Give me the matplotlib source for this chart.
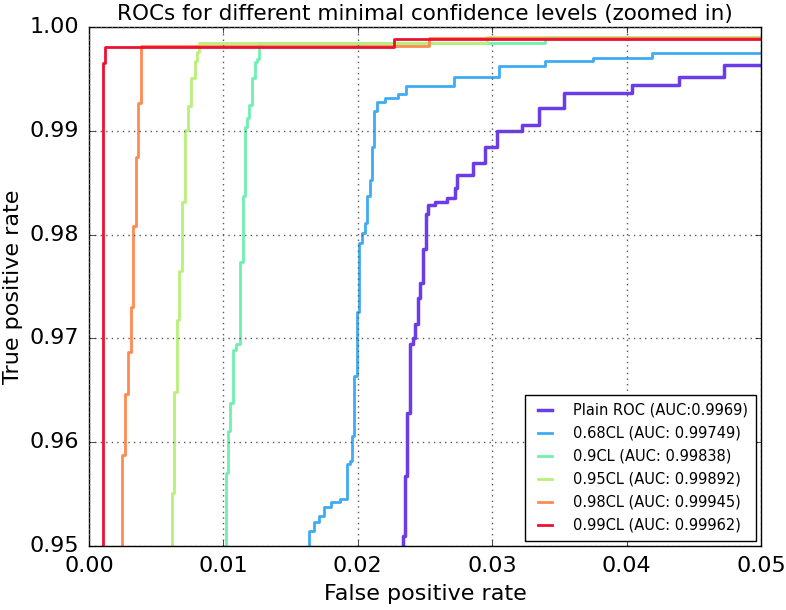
import matplotlib
matplotlib.use("Agg")
import matplotlib.pyplot as plt
from matplotlib.ticker import FormatStrFormatter

plt.style.use("classic")
plt.rcParams["font.family"] = ["DejaVu Sans"]

labels = ["Plain ROC (AUC:0.9969)", "0.68CL (AUC: 0.99749)", "0.9CL (AUC: 0.99838)",
          "0.95CL (AUC: 0.99892)", "0.98CL (AUC: 0.99945)", "0.99CL (AUC: 0.99962)"]
colors = ["#6a3de8", "#40aaf2", "#70f0b0", "#b8f07a", "#ff8a50", "#ee1030"]

# Step points: (fpr where the curve rises, tpr level after rising)
fpr_plain = [0.023341, 0.023341, 0.023527, 0.023683, 0.023921, 0.024129, 0.024293, 0.024479,
             0.024628, 0.024851, 0.025052, 0.025246, 0.025781, 0.026674, 0.027269, 0.027418,
             0.028549, 0.029464, 0.030357, 0.032240, 0.033519, 0.035357, 0.040379, 0.043921,
             0.047225, 0.05]
tpr_plain = [0.94, 0.951012, 0.956744, 0.962784, 0.969461, 0.970039, 0.971358, 0.973892,
             0.975366, 0.978613, 0.981956, 0.982881, 0.983170, 0.983555, 0.984489, 0.985790,
             0.986927, 0.988468, 0.990010, 0.990559, 0.992168, 0.993671, 0.994412, 0.995212,
             0.996339, 0.996339]

fpr_68 = [0.016391, 0.016391, 0.016763, 0.017135, 0.017507, 0.017984, 0.018676, 0.019219,
          0.019420, 0.019591, 0.019717, 0.019918, 0.020119, 0.020290, 0.020536, 0.020707,
          0.020908, 0.021079, 0.021228, 0.021406, 0.022024, 0.023013, 0.023586, 0.027158,
          0.030528, 0.033929, 0.037522, 0.041868, 0.05]
tpr_68 = [0.94, 0.951474, 0.952341, 0.952919, 0.953728, 0.954210, 0.954499, 0.957900,
          0.958218, 0.960626, 0.966378, 0.972572, 0.979162, 0.980125, 0.981146, 0.983748,
          0.985260, 0.988468, 0.991908, 0.992746, 0.993131, 0.993545, 0.994345, 0.995183,
          0.996243, 0.996753, 0.997042, 0.997466, 0.997466]

fpr_90 = [0.010171, 0.010171, 0.010320, 0.010491, 0.010692, 0.010938, 0.011235, 0.011436,
          0.011585, 0.011734, 0.011927, 0.012106, 0.012351, 0.012522, 0.012671, 0.033929, 0.05]
tpr_90 = [0.94, 0.957062, 0.961108, 0.963748, 0.968882, 0.969461, 0.977331, 0.983748,
          0.990395, 0.991204, 0.992486, 0.995058, 0.996657, 0.996965, 0.998459, 0.999085, 0.999085]

fpr_95 = [0.006153, 0.006153, 0.006347, 0.006525, 0.006719, 0.006942, 0.007180, 0.007388,
          0.007589, 0.007887, 0.008058, 0.008207, 0.029613, 0.05]
tpr_95 = [0.94, 0.955077, 0.964865, 0.971773, 0.976522, 0.983112, 0.990077, 0.992389,
          0.995058, 0.996724, 0.997620, 0.998430, 0.999040, 0.999040]

fpr_98 = [0.002478, 0.002478, 0.002679, 0.002879, 0.003103, 0.003296, 0.003497, 0.003668,
          0.003869, 0.025320, 0.05]
tpr_98 = [0.94, 0.958767, 0.964644, 0.968719, 0.973054, 0.980857, 0.987505, 0.992707,
          0.998200, 0.998910, 0.998910]

fpr_99 = [0.001019, 0.001019, 0.001190, 0.022716, 0.05]
tpr_99 = [0.94, 0.996503, 0.998102, 0.998860, 0.998860]

curves = [(fpr_plain, tpr_plain), (fpr_68, tpr_68), (fpr_90, tpr_90),
          (fpr_95, tpr_95), (fpr_98, tpr_98), (fpr_99, tpr_99)]
widths = [2.5, 2, 2, 2, 2, 2]

fig = plt.figure(figsize=(7.86, 6.10), dpi=100, facecolor="white")
ax = fig.add_axes([0.1132, 0.1049, 0.855, 0.8508])
ax.set_facecolor("white")

for (fx, fy), lab, col, lw in zip(curves, labels, colors, widths):
    ax.plot(fx, fy, drawstyle="steps-post", color=col, lw=lw, label=lab)

ax.set_xlim(0.0, 0.05)
ax.set_ylim(0.95, 1.0)
ax.set_xticks([0.0, 0.01, 0.02, 0.03, 0.04, 0.05])
ax.set_yticks([0.95, 0.96, 0.97, 0.98, 0.99, 1.00])
ax.xaxis.set_major_formatter(FormatStrFormatter("%.2f"))
ax.yaxis.set_major_formatter(FormatStrFormatter("%.2f"))
ax.tick_params(labelsize=16, pad=7)
ax.grid(True, color="0.35", linestyle=":", linewidth=1)
ax.set_xlabel("False positive rate", fontsize=16, labelpad=6)
ax.set_ylabel("True positive rate", fontsize=16, labelpad=5)
ax.set_title("ROCs for different minimal confidence levels (zoomed in)", fontsize=15.5, y=1.0)

leg = ax.legend(loc="lower right", fontsize=10.5, handlelength=1.6, handletextpad=1.1,
                borderpad=0.55, labelspacing=0.55, borderaxespad=0.35,
                frameon=True, fancybox=False)
leg.get_frame().set_edgecolor("black")

fig.savefig("out.png", dpi=100, facecolor="white")
